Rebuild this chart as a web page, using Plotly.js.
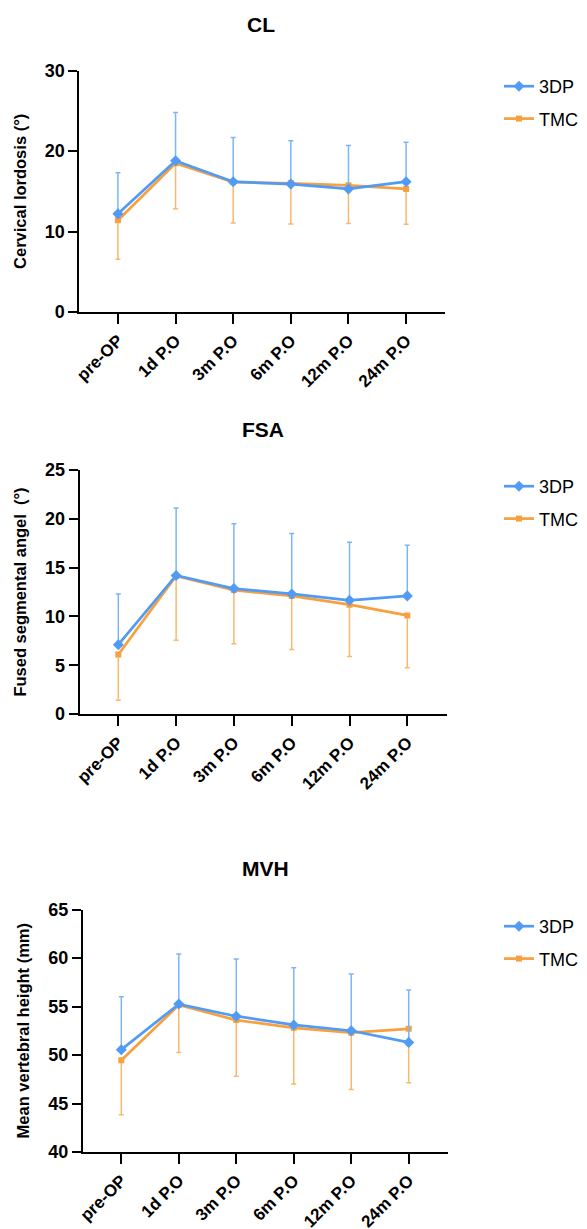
<!DOCTYPE html>
<html>
<head>
<meta charset="utf-8">
<script src="https://cdn.plot.ly/plotly-3.0.1.min.js"></script>
<style>html,body{margin:0;padding:0;background:#fff;}#chart{width:587px;height:1229px;}</style>
</head>
<body>
<div id="chart"></div>
<script>
// ---- data ----
const categories = ['pre-OP', '1d P.O', '3m P.O', '6m P.O', '12m P.O', '24m P.O'];
const seriesNames = ['3DP', 'TMC'];
const panelTitles = ['CL', 'FSA', 'MVH'];
const yTitles = ['Cervical lordosis (°)', 'Fused segmental angel \u00a0(°)', 'Mean vertebral height (mm)'];

const cl3dpMean = [12.2, 18.8, 16.2, 15.9, 15.3, 16.2];
const cl3dpSD   = [5.1, 6.0, 5.5, 5.4, 5.4, 4.9];
const clTmcMean = [11.4, 18.5, 16.15, 16.0, 15.75, 15.3];
const clTmcSD   = [4.85, 5.65, 5.1, 5.05, 4.75, 4.4];

const fsa3dpMean = [7.1, 14.2, 12.85, 12.3, 11.65, 12.1];
const fsa3dpSD   = [5.2, 6.9, 6.65, 6.2, 5.95, 5.2];
const fsaTmcMean = [6.1, 14.15, 12.7, 12.1, 11.2, 10.1];
const fsaTmcSD   = [4.7, 6.6, 5.5, 5.5, 5.3, 5.35];

const mvh3dpMean = [50.55, 55.25, 54.0, 53.1, 52.5, 51.3];
const mvh3dpSD   = [5.45, 5.15, 5.9, 5.9, 5.85, 5.4];
const mvhTmcMean = [49.45, 55.15, 53.6, 52.8, 52.3, 52.7];
const mvhTmcSD   = [5.6, 4.9, 5.8, 5.8, 5.85, 5.55];

const yRanges = [[0, 30], [0, 25], [40, 65]];
const yDticks = [10, 5, 5];

// ---- style ----
const FONT = 'Liberation Sans, Arial, Helvetica, sans-serif';
const BLUE = '#519BF4', BLUE_ERR = '#7DB5F6';
const ORANGE = '#F7A03F', ORANGE_ERR = '#F8B86E';

const zeros = categories.map(() => 0);

function trace(name, y, sd, up, color, ecolor, symbol, size, idx, rank) {
  const s = idx === 0 ? '' : String(idx + 1);
  return {
    type: 'scatter', mode: 'lines+markers',
    x: categories, y: y, name: name,
    xaxis: 'x' + s, yaxis: 'y' + s,
    legend: 'legend' + s, legendgroup: name + s, legendrank: rank,
    line: {color: color, width: 2.7},
    marker: {symbol: symbol, size: size, color: color},
    error_y: {type: 'data', symmetric: false,
      array: up ? sd : zeros, arrayminus: up ? zeros : sd,
      color: ecolor, thickness: 1.5, width: 2.5}
  };
}

const panels = [
  [cl3dpMean, cl3dpSD, clTmcMean, clTmcSD],
  [fsa3dpMean, fsa3dpSD, fsaTmcMean, fsaTmcSD],
  [mvh3dpMean, mvh3dpSD, mvhTmcMean, mvhTmcSD]
];

const data = [];
panels.forEach((p, i) => {
  data.push(trace(seriesNames[1], p[2], p[3], false, ORANGE, ORANGE_ERR, 'square', 6, i, 2));
  data.push(trace(seriesNames[0], p[0], p[1], true, BLUE, BLUE_ERR, 'diamond', 8.5, i, 1));
});

const W = 587, H = 1229;
const px = v => v / W;
const py = v => 1 - v / H;

// pixel geometry: [xLeft, xRight, yTop, yBottom]
const geo = [[79.3, 445.3, 70.8, 311.9], [79.6, 446.6, 470, 714], [82.8, 447.8, 909.5, 1152]];
const titlePos = [[261, 25], [263, 429], [265, 868]];
const legendTop = [68, 468, 908];

const layout = {
  width: W, height: H,
  margin: {l: 0, r: 0, t: 0, b: 0},
  paper_bgcolor: '#fff', plot_bgcolor: 'rgba(0,0,0,0)',
  font: {family: FONT, color: '#000'},
  showlegend: true,
  annotations: [],
  hovermode: false
};

geo.forEach((g, i) => {
  const s = i === 0 ? '' : String(i + 1);
  layout['xaxis' + s] = {
    domain: [px(g[0]), px(g[1])], anchor: 'y' + s,
    type: 'category', range: [-0.67, 5.68],
    showline: true, linewidth: 2, linecolor: '#000',
    ticks: 'outside', ticklen: 10, tickwidth: 2, tickcolor: '#000',
    tickangle: -45, tickfont: {family: FONT, size: 17, weight: 'bold', color: '#000'},
    showgrid: false, zeroline: false, fixedrange: true
  };
  layout['yaxis' + s] = {
    domain: [py(g[3]), py(g[2])], anchor: 'x' + s,
    range: yRanges[i], dtick: yDticks[i], tick0: yRanges[i][0],
    showline: true, linewidth: 2, linecolor: '#000',
    ticks: 'outside', ticklen: 9, tickwidth: 2, tickcolor: '#000',
    tickfont: {family: FONT, size: 18, weight: 'bold', color: '#000'},
    title: {text: yTitles[i], font: {family: FONT, size: 16.5, weight: 'bold', color: '#000'}, standoff: 14},
    showgrid: false, zeroline: false, fixedrange: true
  };
  layout['legend' + s] = {
    x: px(499), y: py(legendTop[i]), xanchor: 'left', yanchor: 'top',
    traceorder: 'grouped', tracegroupgap: 6,
    bgcolor: 'rgba(0,0,0,0)', borderwidth: 0,
    font: {family: FONT, size: 18, color: '#000'}
  };
  layout.annotations.push({
    text: panelTitles[i], xref: 'paper', yref: 'paper',
    x: px(titlePos[i][0]), y: py(titlePos[i][1]), xanchor: 'center', yanchor: 'middle',
    showarrow: false, font: {family: FONT, size: 21, weight: 'bold', color: '#000'}
  });
});

Plotly.newPlot('chart', data, layout, {displayModeBar: false, staticPlot: true});
</script>
</body>
</html>
